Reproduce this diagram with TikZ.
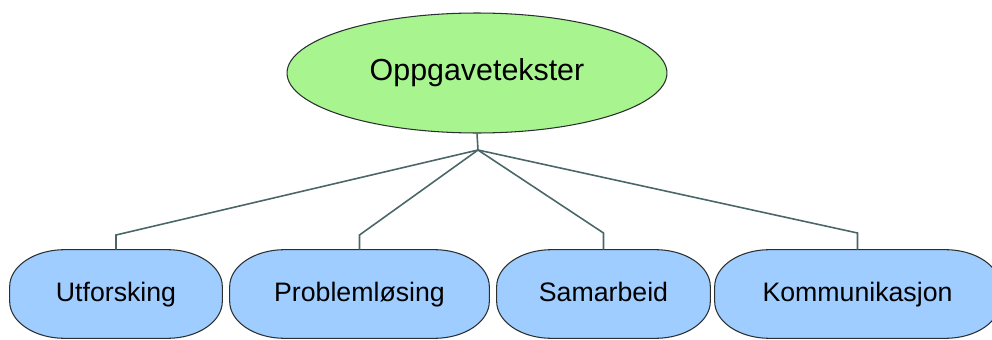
\documentclass[tikz,border=0pt]{standalone}
\usepackage{fontspec}
\setmainfont{Liberation Sans}
\usetikzlibrary{shapes.geometric,backgrounds,calc}
\definecolor{topgreen}{HTML}{A8F590}
\definecolor{boxblue}{HTML}{9FCDFF}
\definecolor{linegray}{HTML}{4A6666}
\definecolor{edgegray}{HTML}{2A2F30}
\tikzset{
  topnode/.style={ellipse, draw=edgegray, line width=0.6pt, fill=topgreen,
    minimum width=7.6cm, minimum height=2.4cm, inner sep=0pt,
    font=\fontsize{17.3}{20}\selectfont, text height=2.1ex, text depth=0.4ex},
  leafnode/.style={draw=none, minimum height=1.76cm, inner sep=0pt,
    font=\fontsize{15.2}{18}\selectfont, text height=2.1ex, text depth=0.4ex},
  leafshape/.style={draw=edgegray, line width=0.6pt, fill=boxblue},
  conn/.style={draw=linegray, line width=0.9pt},
}
\newcommand{\leafbox}[1]{%
  \path[leafshape]
    ([xshift=1.1cm]#1.north west) -- ([xshift=-1.1cm]#1.north east)
    arc[start angle=90,end angle=0,x radius=1.1cm,y radius=0.74cm]
    -- ([yshift=0.74cm]#1.south east)
    arc[start angle=0,end angle=-90,x radius=1.1cm,y radius=0.74cm]
    -- ([xshift=1.1cm]#1.south west)
    arc[start angle=270,end angle=180,x radius=1.1cm,y radius=0.74cm]
    -- ([yshift=-0.74cm]#1.north west)
    arc[start angle=180,end angle=90,x radius=1.1cm,y radius=0.74cm]
    -- cycle;}
\begin{document}
\begin{tikzpicture}[x=0.02cm,y=0.02cm]
\useasboundingbox (0,0) rectangle (992,339);
\clip (0,0) rectangle (992,339);
\node[topnode] (top) at (477,266) {Oppgavetekster};
\node[leafnode, minimum width=4.24cm] (u) at (116,45) {Utforsking};
\node[leafnode, minimum width=5.18cm] (p) at (359.5,45) {Problemløsing};
\node[leafnode, minimum width=4.26cm] (s) at (603.5,45) {Samarbeid};
\node[leafnode, minimum width=5.7cm] (k) at (857.5,45) {Kommunikasjon};
\begin{pgfonlayer}{background}
\leafbox{u}\leafbox{p}\leafbox{s}\leafbox{k}
\end{pgfonlayer}
\coordinate (hub) at (478,189);
\coordinate (eu) at (116,104);
\coordinate (ep) at (359.5,104);
\coordinate (es) at (603.5,106);
\coordinate (ek) at (857.5,106);
\draw[conn] (top.south) -- (hub);
\draw[conn] (hub) -- (eu) -- (u.north);
\draw[conn] (hub) -- (ep) -- (p.north);
\draw[conn] (hub) -- (es) -- (s.north);
\draw[conn] (hub) -- (ek) -- (k.north);
\end{tikzpicture}
\end{document}
